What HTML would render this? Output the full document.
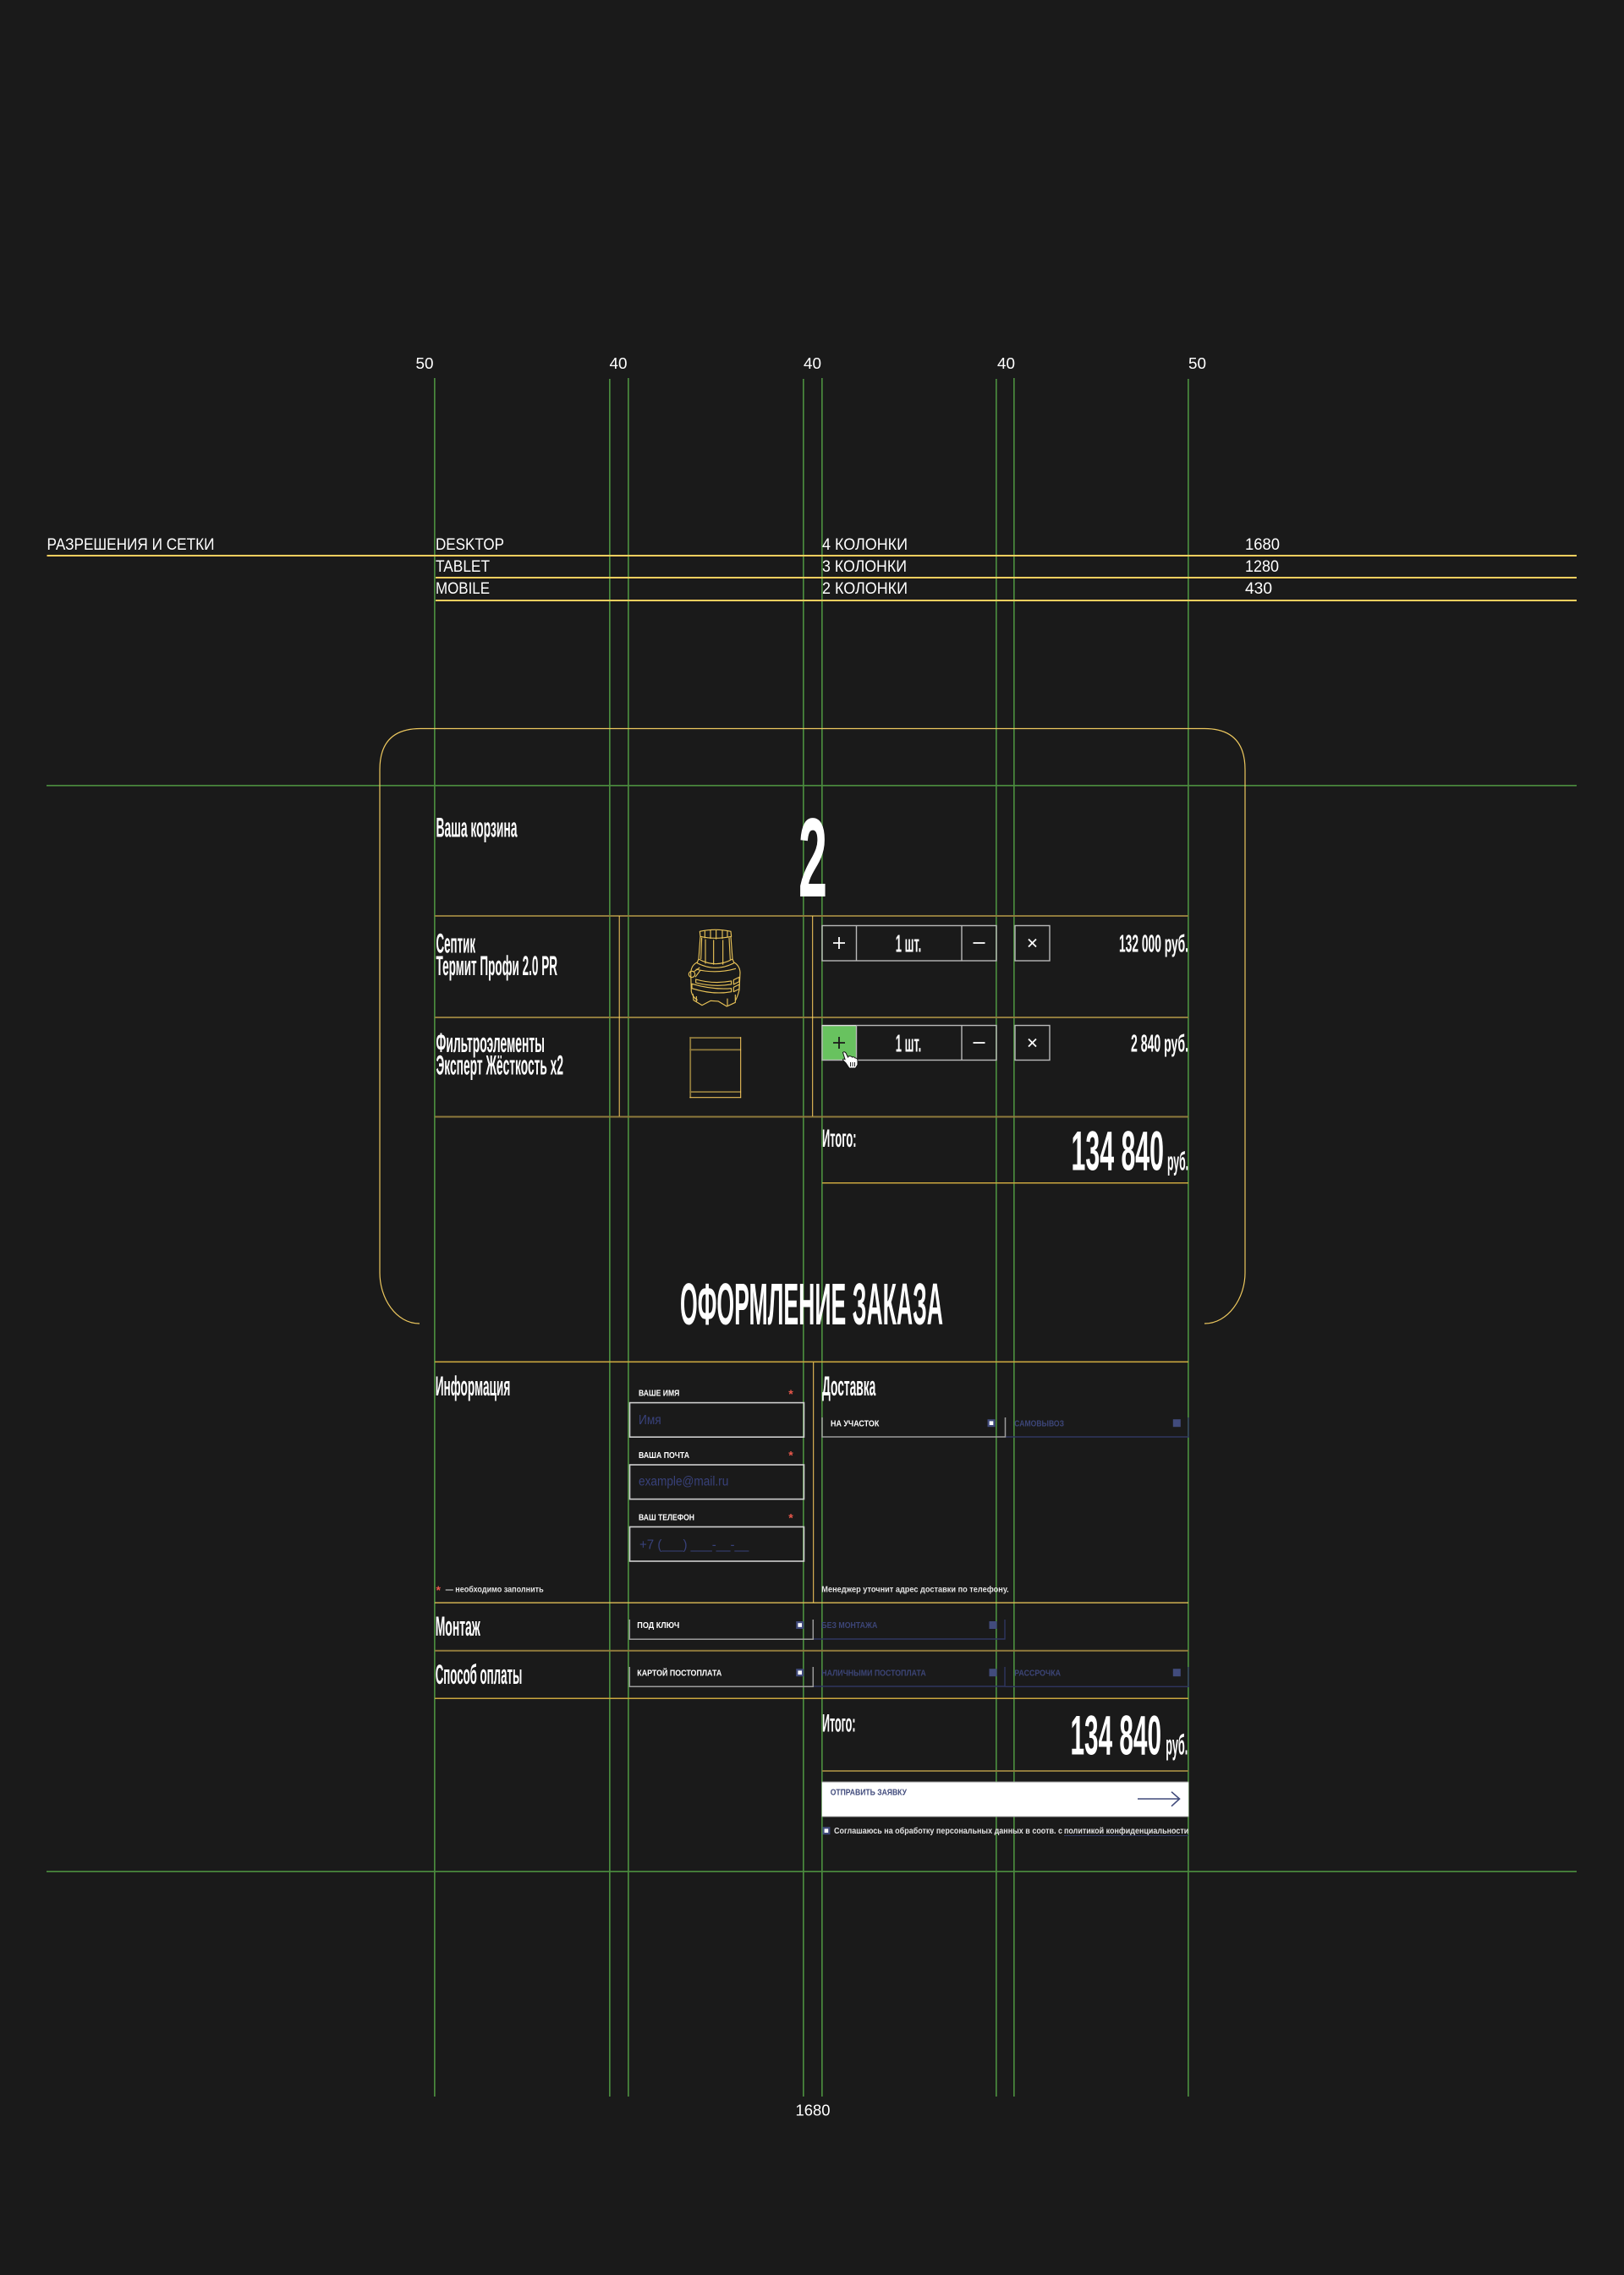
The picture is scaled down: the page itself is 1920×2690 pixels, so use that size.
<!DOCTYPE html>
<html lang="ru"><head><meta charset="utf-8"><title>Разрешения и сетки</title>
<style>
html,body{margin:0;padding:0;background:#1a1a1a}
svg{display:block}
text{font-family:"Liberation Sans","DejaVu Sans",sans-serif;fill:#fff}
.b{font-weight:700}
.lab{font-weight:700;font-size:10.5px}
.ph{fill:#38417a;font-size:15.5px}
.dim{fill:#3c4577;font-weight:700;font-size:10.5px}
.sm{fill:#e2e2e2;font-weight:700;font-size:10px}
.t{font-size:19px}
</style></head><body>
<svg width="1920" height="2690" viewBox="0 0 1920 2690" xmlns="http://www.w3.org/2000/svg">
<rect width="1920" height="2690" fill="#1a1a1a"/>

<!-- green guides -->
<g fill="#4a8a3e">
<rect x="513" y="447" width="1.7" height="2032"/>
<rect x="720" y="448" width="1.7" height="2031"/>
<rect x="742" y="447" width="1.7" height="2032"/>
<rect x="949" y="448" width="1.7" height="2031"/>
<rect x="971" y="447" width="1.7" height="2032"/>
<rect x="1177" y="448" width="1.7" height="2031"/>
<rect x="1198" y="447" width="1.7" height="2032"/>
<rect x="1404" y="448" width="1.7" height="2031"/>
<rect x="55" y="928" width="1809" height="1.7"/>
<rect x="55" y="2212" width="1809" height="1.7"/>
</g>

<!-- measure labels -->
<g font-size="18">
<text x="491.5" y="436" textLength="21" lengthAdjust="spacingAndGlyphs">50</text>
<text x="720.5" y="436" textLength="21" lengthAdjust="spacingAndGlyphs">40</text>
<text x="950" y="436" textLength="21" lengthAdjust="spacingAndGlyphs">40</text>
<text x="1179" y="436" textLength="21" lengthAdjust="spacingAndGlyphs">40</text>
<text x="1405" y="436" textLength="21" lengthAdjust="spacingAndGlyphs">50</text>
<text x="940.5" y="2501.3" textLength="41" lengthAdjust="spacingAndGlyphs">1680</text>
</g>

<!-- table -->
<g fill="#ffcf5f">
<rect x="55.5" y="656" width="1808.5" height="2"/>
<rect x="515" y="682" width="1349" height="2"/>
<rect x="515" y="709" width="1349" height="2"/>
</g>
<text class="t" x="55.5" y="650" textLength="198" lengthAdjust="spacingAndGlyphs">РАЗРЕШЕНИЯ И СЕТКИ</text>
<text class="t" x="515" y="650" textLength="81" lengthAdjust="spacingAndGlyphs">DESKTOP</text>
<text class="t" x="515" y="676" textLength="64" lengthAdjust="spacingAndGlyphs">TABLET</text>
<text class="t" x="515" y="702" textLength="64" lengthAdjust="spacingAndGlyphs">MOBILE</text>
<text class="t" x="972" y="650" textLength="101" lengthAdjust="spacingAndGlyphs">4 КОЛОНКИ</text>
<text class="t" x="972" y="676" textLength="100" lengthAdjust="spacingAndGlyphs">3 КОЛОНКИ</text>
<text class="t" x="972" y="702" textLength="101" lengthAdjust="spacingAndGlyphs">2 КОЛОНКИ</text>
<text class="t" x="1472" y="650" textLength="41" lengthAdjust="spacingAndGlyphs">1680</text>
<text class="t" x="1472" y="676" textLength="40" lengthAdjust="spacingAndGlyphs">1280</text>
<text class="t" x="1472" y="702" textLength="32" lengthAdjust="spacingAndGlyphs">430</text>

<!-- rounded frame -->
<path d="M496 1565 C468 1565 449 1535 449 1505 V910 Q449 861.5 497 861.5 H1424 Q1472 861.5 1472 910 V1505 C1472 1535 1452 1565 1424 1565" fill="none" stroke="#ecc75e" stroke-width="1.2"/>

<!-- cart -->
<text class="b" font-size="32" x="515.5" y="989.5" textLength="96" lengthAdjust="spacingAndGlyphs">Ваша корзина</text>
<text class="b" font-size="133" x="944" y="1060" textLength="34" lengthAdjust="spacingAndGlyphs">2</text>

<g fill="#8f7a3c">
<rect x="514" y="1082" width="891" height="2"/>
<rect x="514" y="1202" width="891" height="2"/>
<rect x="514" y="1319.5" width="891" height="2"/>
</g>
<g fill="#ffcf5f">
<rect x="731.7" y="1083" width="1" height="237"/>
<rect x="960.2" y="1083" width="1" height="237"/>
</g>
<rect x="972" y="1398" width="433" height="1.5" fill="#c9a63f"/>

<text class="b" font-size="32" x="515.5" y="1126.5" textLength="46.5" lengthAdjust="spacingAndGlyphs">Септик</text>
<text class="b" font-size="32" x="515.5" y="1153" textLength="143.5" lengthAdjust="spacingAndGlyphs">Термит Профи 2.0 PR</text>
<text class="b" font-size="32" x="515.5" y="1244" textLength="128.5" lengthAdjust="spacingAndGlyphs">Фильтроэлементы</text>
<text class="b" font-size="32" x="515.5" y="1270.5" textLength="150.5" lengthAdjust="spacingAndGlyphs">Эксперт Жёсткость x2</text>

<!-- septic icon -->
<g transform="translate(790 1070) scale(.3333)" fill="none" stroke="#e9c358" stroke-width="3.4" stroke-linejoin="round">
<path d="M112 94 Q167 82 222 94 L224 112 Q167 124 114 112 Z"/>
<path d="M130 92V118M150 90V120M170 90V122M192 90V120M210 92V116"/>
<path d="M114 112 L108 192 M222 112 L228 192 M119 116 L116 192 M216 116 L220 194"/>
<path d="M132 122V208M161 124V212M194 124V212"/>
<path d="M108 192 Q168 226 228 192 L234 206 Q168 240 102 206 Z"/>
<path d="M102 204 Q82 214 80 240 L82 308 Q86 326 104 338 M234 204 Q254 216 255 240 L252 302 Q246 326 238 340"/>
<path d="M98 228 Q168 246 240 226"/>
<path d="M98 264 Q160 282 224 270 V282 Q160 292 98 276 Z"/>
<path d="M84 280 Q160 302 224 296 V308 Q160 320 84 296 Z"/>
<path d="M232 266 L252 256 V272 L232 282 Z M232 292 L252 282 V298 L232 308 Z"/>
<path d="M88 316 L90 338 L120 356 L150 340 L178 342 L208 360 L238 346 L238 318"/>
<path d="M100 324 V344 M210 332 V358"/>
<circle cx="84" cy="246" r="11"/><path d="M92 236 L112 222 M96 256 L114 232"/>
</g>

<!-- filter icon -->
<g>
<rect x="815.3" y="1226.2" width="60.8" height="1.8" fill="#8f7a3c"/>
<rect x="815.3" y="1240.4" width="60.8" height="1.8" fill="#8f7a3c"/>
<rect x="815.3" y="1290.2" width="60.8" height="1.8" fill="#8f7a3c"/>
<rect x="815.3" y="1226.2" width="1.8" height="72" fill="#8f7a3c"/>
<rect x="875.2" y="1226.2" width="1" height="72" fill="#ffcf5f"/>
<rect x="815.3" y="1297.2" width="60.8" height="1" fill="#ffcf5f"/>
</g>

<!-- qty controls -->
<g fill="none" stroke="#b8b8b8" stroke-width="1.4">
<rect x="972" y="1094.5" width="206" height="41.5"/>
<path d="M1012.5 1094.5V1136M1137 1094.5V1136"/>
<rect x="1200" y="1094.5" width="41" height="41.5"/>
</g>
<rect x="972" y="1212.5" width="40.5" height="41" fill="#68c25f"/>
<g fill="none" stroke="#b8b8b8" stroke-width="1.4">
<rect x="972" y="1212.5" width="206" height="41"/>
<path d="M1012.5 1212.5V1253.5M1137 1212.5V1253.5"/>
<rect x="1200" y="1212.5" width="41" height="41"/>
</g>
<g stroke="#fff" stroke-width="1.8" fill="none">
<path d="M985 1115H999M992 1108V1122"/>
<path d="M1150.5 1115H1164.5"/>
<path d="M1216 1110.5L1225 1119.5M1225 1110.5L1216 1119.5"/>
<path d="M1150.5 1233H1164.5"/>
<path d="M1216 1228.5L1225 1237.5M1225 1228.5L1216 1237.5"/>
</g>
<path d="M985 1233H999M992 1226V1240" stroke="#1a1a1a" stroke-width="1.8" fill="none"/>
<rect x="972" y="1212" width="40" height="1.2" fill="#ddd"/>

<text class="b" font-size="29" x="1058.8" y="1125.5" textLength="30.5" lengthAdjust="spacingAndGlyphs">1 шт.</text>
<text class="b" font-size="29" x="1058.8" y="1243.5" textLength="30.5" lengthAdjust="spacingAndGlyphs">1 шт.</text>
<text class="b" font-size="29" x="1323" y="1125.5" textLength="82" lengthAdjust="spacingAndGlyphs">132 000 руб.</text>
<text class="b" font-size="29" x="1337" y="1243.5" textLength="68" lengthAdjust="spacingAndGlyphs">2 840 руб.</text>

<!-- cursor -->
<path d="M996.5 1244.5 C998 1243 1000 1244 1001 1247 L1002.5 1250 L1003 1249 C1005 1248.5 1007 1249 1007.5 1250 C1009 1249.5 1010.5 1250 1011 1251 C1012.5 1251 1014 1252 1014 1254 L1014 1259 L1011.5 1263 L1004 1263 L1000 1257 L997 1254 C996 1252.5 997 1251.5 999 1252.5 Z" fill="#fff" stroke="#111" stroke-width="1"/>
<path d="M1005.5 1256V1261M1008 1256V1261M1010.5 1256V1261" stroke="#222" stroke-width="1" fill="none"/>

<text class="b" font-size="30" x="972" y="1356" textLength="40.5" lengthAdjust="spacingAndGlyphs">Итого:</text>
<text class="b" font-size="66" x="1266.5" y="1383.5" textLength="109.5" lengthAdjust="spacingAndGlyphs">134 840</text>
<text class="b" font-size="31" x="1380" y="1383.5" textLength="25" lengthAdjust="spacingAndGlyphs">руб.</text>

<!-- heading -->
<text class="b" font-size="70" x="804" y="1566" textLength="311" lengthAdjust="spacingAndGlyphs">ОФОРМЛЕНИЕ ЗАКАЗА</text>

<!-- form structure -->
<rect x="514" y="1609.5" width="891" height="1.6" fill="#c9a63f"/>
<rect x="514" y="1894.4" width="891" height="1.4" fill="#dcbb55"/>
<rect x="514" y="1950.8" width="891" height="2" fill="#8f7a3c"/>
<rect x="514" y="2007.5" width="891" height="1.5" fill="#c9a63f"/>
<rect x="961.2" y="1611" width="1" height="284" fill="#ffcf5f"/>

<text class="b" font-size="32" x="514.7" y="1650" textLength="88.6" lengthAdjust="spacingAndGlyphs">Информация</text>
<text class="b" font-size="32" x="972" y="1650" textLength="63.3" lengthAdjust="spacingAndGlyphs">Доставка</text>
<text class="b" font-size="32" x="514.7" y="1934" textLength="53" lengthAdjust="spacingAndGlyphs">Монтаж</text>
<text class="b" font-size="32" x="514.7" y="1991" textLength="102.6" lengthAdjust="spacingAndGlyphs">Способ оплаты</text>

<!-- inputs -->
<text class="lab" x="755" y="1650.7" textLength="48.3" lengthAdjust="spacingAndGlyphs">ВАШЕ ИМЯ</text>
<text class="lab" x="755" y="1724" textLength="60" lengthAdjust="spacingAndGlyphs">ВАША ПОЧТА</text>
<text class="lab" x="755" y="1797.3" textLength="66" lengthAdjust="spacingAndGlyphs">ВАШ ТЕЛЕФОН</text>
<g fill="#e8574a" stroke="none" font-weight="700" font-size="14">
<text x="932.2" y="1653" style="fill:#e8574a">*</text>
<text x="932.2" y="1725.5" style="fill:#e8574a">*</text>
<text x="932.2" y="1799.5" style="fill:#e8574a">*</text>
<text x="515.5" y="1885" style="fill:#e8574a">*</text>
</g>
<g fill="none" stroke="#cfcfcf" stroke-width="1.6">
<rect x="744.5" y="1658.6" width="206" height="40.6"/>
<rect x="744.5" y="1732" width="206" height="40.6"/>
<rect x="744.5" y="1805.4" width="206" height="40.6"/>
</g>
<text class="ph" x="755" y="1684" textLength="26.7" lengthAdjust="spacingAndGlyphs">Имя</text>
<text class="ph" x="755" y="1756.7" textLength="106.3" lengthAdjust="spacingAndGlyphs">example@mail.ru</text>
<text class="ph" x="756" y="1831.3" textLength="129.3" lengthAdjust="spacingAndGlyphs">+7 (___) ___-__-__</text>

<text class="sm" x="526.7" y="1882.7" textLength="116" lengthAdjust="spacingAndGlyphs">— необходимо заполнить</text>
<text class="sm" x="971.3" y="1882.7" textLength="221.4" lengthAdjust="spacingAndGlyphs">Менеджер уточнит адрес доставки по телефону.</text>

<!-- options: dim -->
<g fill="none" stroke="#2f3660" stroke-width="1.4">
<path d="M1188.5 1699H1405V1676"/>
<path d="M961 1938H1188V1915"/>
<path d="M961 1994H1188V1971"/>
<path d="M1188.5 1994.3H1405V1971"/>
</g>
<!-- options: active -->
<g fill="none" stroke="#9c9c9c" stroke-width="1.5">
<path d="M972 1676V1699H1188.5V1676"/>
<path d="M744.3 1915V1938.3H961.3V1915"/>
<path d="M744.3 1971V1994.3H961.3V1971"/>
</g>
<text class="lab" x="982" y="1686.7" textLength="57.3" lengthAdjust="spacingAndGlyphs">НА УЧАСТОК</text>
<text class="lab" x="753.3" y="1925" textLength="50" lengthAdjust="spacingAndGlyphs">ПОД КЛЮЧ</text>
<text class="lab" x="753.3" y="1981.3" textLength="100" lengthAdjust="spacingAndGlyphs">КАРТОЙ ПОСТОПЛАТА</text>
<text class="dim" x="1199.3" y="1686.7" textLength="58.7" lengthAdjust="spacingAndGlyphs">САМОВЫВОЗ</text>
<text class="dim" x="971.3" y="1925" textLength="66" lengthAdjust="spacingAndGlyphs">БЕЗ МОНТАЖА</text>
<text class="dim" x="971.3" y="1981.3" textLength="123.4" lengthAdjust="spacingAndGlyphs">НАЛИЧНЫМИ ПОСТОПЛАТА</text>
<text class="dim" x="1199.3" y="1981.3" textLength="54.7" lengthAdjust="spacingAndGlyphs">РАССРОЧКА</text>

<g fill="#414b7c">
<rect x="1167.5" y="1678.2" width="9" height="9"/>
<rect x="941.2" y="1917" width="9" height="9"/>
<rect x="941.2" y="1973.2" width="9" height="9"/>
<rect x="972.4" y="2160.2" width="9" height="9"/>
<rect x="1386.8" y="1678.2" width="9" height="9"/>
<rect x="1169.5" y="1917" width="9" height="9"/>
<rect x="1169.5" y="1973.2" width="9" height="9"/>
<rect x="1386.8" y="1973.2" width="9" height="9"/>
</g>
<g fill="#fff">
<rect x="1169.7" y="1680.4" width="4.6" height="4.6"/>
<rect x="943.4" y="1919.2" width="4.6" height="4.6"/>
<rect x="943.4" y="1975.4" width="4.6" height="4.6"/>
<rect x="974.6" y="2162.4" width="4.6" height="4.6"/>
</g>

<!-- totals -->
<text class="b" font-size="30" x="972" y="2047.3" textLength="39.5" lengthAdjust="spacingAndGlyphs">Итого:</text>
<text class="b" font-size="66" x="1265.5" y="2074.3" textLength="107.5" lengthAdjust="spacingAndGlyphs">134 840</text>
<text class="b" font-size="33" x="1378.3" y="2074.3" textLength="26" lengthAdjust="spacingAndGlyphs">руб.</text>
<rect x="972" y="2093" width="433" height="2" fill="#8f7a3c"/>

<!-- submit -->
<rect x="971.7" y="2106.7" width="433.6" height="41.6" fill="#fff"/>
<rect x="971.7" y="2106.7" width="433.6" height=".8" fill="#999"/>
<rect x="971.7" y="2147.6" width="433.6" height=".8" fill="#999"/>
<text class="lab" x="981.7" y="2122.7" textLength="90.3" lengthAdjust="spacingAndGlyphs" style="fill:#414b7c">ОТПРАВИТЬ ЗАЯВКУ</text>
<path d="M1345 2127H1394M1385 2118.7L1394.5 2127L1385 2135.7" fill="none" stroke="#414b7c" stroke-width="1.6"/>

<text class="sm" x="986" y="2168" textLength="270" lengthAdjust="spacingAndGlyphs">Соглашаюсь на обработку персональных данных в соотв. с</text>
<text class="sm" x="1258" y="2168" textLength="147.3" lengthAdjust="spacingAndGlyphs">политикой конфиденциальности</text>
<rect x="1258" y="2170" width="147" height="1" fill="#2f3660"/>
</svg>
</body></html>
